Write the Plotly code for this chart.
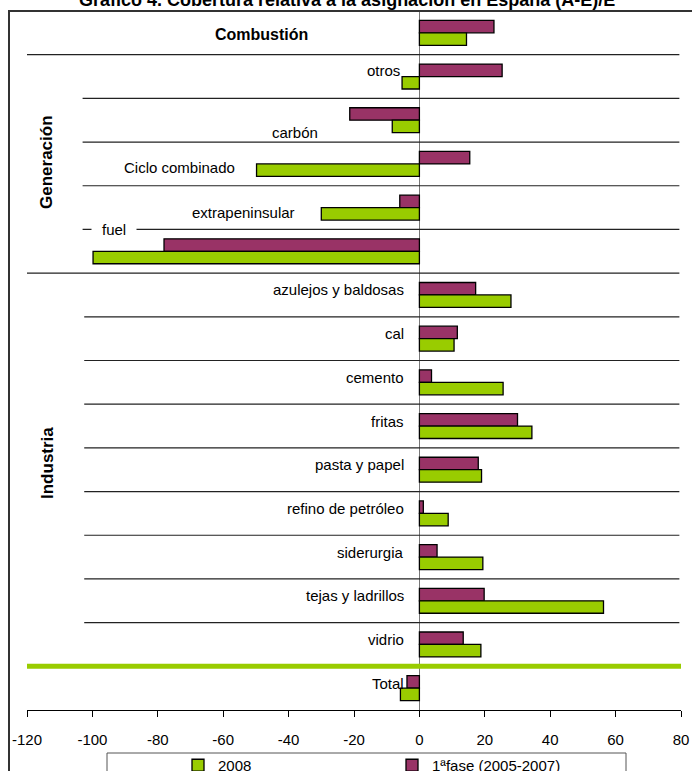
import plotly.graph_objects as go

# ---- data -------------------------------------------------------------
categorias = ["Combustión", "otros", "carbón", "Ciclo combinado", "extrapeninsular", "fuel",
              "azulejos y baldosas", "cal", "cemento", "fritas", "pasta y papel",
              "refino de petróleo", "siderurgia", "tejas y ladrillos", "vidrio", "Total"]
fase1 = [22.8, 25.3, -21.3, 15.4, -6.0, -78.1, 17.2, 11.6, 3.7, 30.0, 18.0, 1.2, 5.4, 19.8, 13.4, -3.8]
v2008 = [14.4, -5.3, -8.3, -49.8, -30.0, -99.8, 28.0, 10.6, 25.6, 34.4, 19.0, 8.8, 19.4, 56.3, 18.8, -5.8]
x_ticks = [-120, -100, -80, -60, -40, -20, 0, 20, 40, 60, 80]
grupos = ["Generación", "Industria"]
serie_names = ["2008", "1ªfase (2005-2007)"]
titulo = "Gráfico 4. Cobertura relativa a la asignación en España (A-E)/E"

# ---- styling ----------------------------------------------------------
W, H = 692, 771
ML, MR, MT, MB = 27, 11, 11, 61
PW, PH = W - ML - MR, H - MT - MB
GREEN, PURPLE = "#99CC00", "#993366"
SANS = "Liberation Sans, Arial, sans-serif"
LBL = 15  # label / tick font size


def px_x(p):  # pixel column -> paper x
    return (p - ML) / PW


def px_y(p):  # pixel row -> paper y
    return (H - MB - p) / PH


rows = list(range(len(categorias)))

fig = go.Figure()
fig.add_trace(go.Bar(y=rows, x=fase1, orientation="h", name=serie_names[1],
                     marker=dict(color=PURPLE, line=dict(color="black", width=1.3)),
                     legendrank=2))
fig.add_trace(go.Bar(y=rows, x=v2008, orientation="h", name=serie_names[0],
                     marker=dict(color=GREEN, line=dict(color="black", width=1.3)),
                     legendrank=1))

# row separators
shapes = []
n = len(categorias)
for i in range(n - 1):
    b = i + 0.5
    if i == n - 2:
        shapes.append(dict(type="line", xref="x", yref="y", x0=-120, x1=80.4, y0=b, y1=b,
                           line=dict(color=GREEN, width=5)))
        continue
    if i in (0, 5):
        x0 = -120
    elif i < 5:
        x0 = -103
    else:
        x0 = -102.5
    shapes.append(dict(type="line", xref="x", yref="y", x0=x0, x1=79.5, y0=b, y1=b,
                       line=dict(color="#222222", width=1.2)))

# outer frame of the chart
shapes.append(dict(type="rect", xref="paper", yref="paper",
                   x0=px_x(9), x1=px_x(710), y0=px_y(820), y1=px_y(11),
                   line=dict(color="#333333", width=2), fillcolor="rgba(0,0,0,0)", layer="above"))
# legend box
shapes.append(dict(type="rect", xref="paper", yref="paper",
                   x0=px_x(107), x1=px_x(626), y0=px_y(800), y1=px_y(753),
                   line=dict(color="#555555", width=1), fillcolor="rgba(0,0,0,0)"))

# category labels
label_font = dict(family=SANS, size=LBL, color="black")
annotations = []
for i, c in enumerate(categorias):
    a = dict(x=0, y=i, xref="x", yref="y", text=c, showarrow=False,
             xanchor="right", yanchor="middle", xshift=-13, yshift=5, font=label_font)
    if c == "Combustión":
        a.update(x=-48.3, xanchor="center", xshift=0, yshift=-2,
                 font=dict(family=SANS, size=16, color="black"), text="<b>Combustión</b>")
    elif c == "otros":
        a.update(x=v2008[i], xshift=0, yshift=6)
    elif c == "carbón":
        a.update(x=-38, xanchor="center", xshift=0, yshift=-12)
    elif c == "Ciclo combinado":
        a.update(x=v2008[i], xshift=-20, yshift=-4)
    elif c == "extrapeninsular":
        a.update(x=v2008[i], xshift=-24, yshift=-5)
    elif c == "fuel":
        a.update(x=-93.5, xanchor="center", xshift=0, yshift=21.5,
                 bgcolor="white", borderpad=10)
    annotations.append(a)

# group labels
annotations.append(dict(x=px_x(47), y=px_y(162), xref="paper", yref="paper",
                        xanchor="center", yanchor="middle",
                        text="<b>" + grupos[0] + "</b>", textangle=-90, showarrow=False,
                        font=dict(family=SANS, size=17, color="black")))
annotations.append(dict(x=px_x(47), y=px_y(463), xref="paper", yref="paper",
                        xanchor="center", yanchor="middle",
                        text="<b>" + grupos[1] + "</b>", textangle=-90, showarrow=False,
                        font=dict(family=SANS, size=17, color="black")))
# title (sits at the very top edge)
annotations.append(dict(x=px_x(347), y=px_y(12), xref="paper", yref="paper",
                        text="<b>" + titulo + "</b>", showarrow=False,
                        xanchor="center", yanchor="bottom",
                        font=dict(family=SANS, size=18, color="black")))

fig.update_layout(
    width=W, height=H,
    margin=dict(l=ML, r=MR, t=MT, b=MB, autoexpand=False),
    paper_bgcolor="white", plot_bgcolor="white",
    barmode="group", bargap=0.43, bargroupgap=0,
    showlegend=True,
    legend=dict(orientation="h", x=px_x(178), y=px_y(749), xanchor="left", yanchor="top",
                bgcolor="rgba(0,0,0,0)", font=dict(family=SANS, size=LBL, color="black"),
                entrywidth=169, entrywidthmode="pixels", traceorder="normal"),
    xaxis=dict(range=[-120, 80], tickvals=x_ticks, ticktext=[str(t) for t in x_ticks],
               showgrid=False, zeroline=True, zerolinecolor="#777777", zerolinewidth=1,
               showline=True, linecolor="black", linewidth=1.3,
               ticks="outside", ticklen=6, tickwidth=1.3, tickcolor="black",
               ticklabelstandoff=10,
               tickfont=dict(family=SANS, size=LBL, color="black")),
    yaxis=dict(range=[n - 0.5, -0.5], showticklabels=False, showgrid=False,
               zeroline=False, showline=False, ticks=""),
    shapes=shapes, annotations=annotations,
)

fig.write_html("out.html")
